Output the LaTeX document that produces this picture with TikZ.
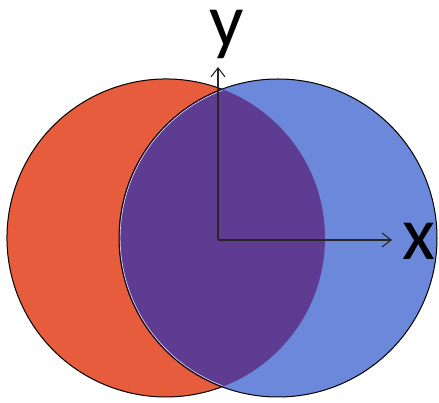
\documentclass[tikz,border=0pt]{standalone}
\usepackage{fontspec}
\setmainfont{Carlito}
\usetikzlibrary{arrows.meta}
\definecolor{redc}{HTML}{E65C3C}
\definecolor{bluec}{HTML}{6C88DA}
\definecolor{purplec}{HTML}{5E3C92}
\tikzset{
  axis/.style={draw=black!85, line width=1.2pt, -{Straight Barb[length=9pt,width=14pt,line width=1.1pt]}},
  outline/.style={draw=black, line width=1pt},
  lbl/.style={font=\fontsize{76}{76}\selectfont, inner sep=0pt, anchor=base}
}
\begin{document}
\begin{tikzpicture}[x=1pt,y=1pt]
\useasboundingbox (0,0) rectangle (439,403);
\coordinate (rc) at (166,165);
\coordinate (bc) at (278,165);
\fill[redc] (rc) circle (159);
\fill[bluec] (bc) circle (159);
\begin{scope}
  \clip (rc) circle (159);
  \fill[purplec] (bc) circle (159);
\end{scope}
\draw[outline] (bc) circle (159);
\draw[outline] (rc) ++(69.4:159) arc[start angle=69.4, end angle=290.6, radius=159];
\draw[white!80!purplec, line width=0.6pt] (bc) ++(110.6:157.8) arc[start angle=110.6, end angle=249.4, radius=157.8];
\coordinate (o) at (218,163);
\coordinate (ytip) at (218,336);
\coordinate (xtip) at (392,163);
\draw[axis] (o) -- (ytip);
\draw[axis] (o) -- (xtip);
\node[lbl] (ylab) at (227,356) {y};
\node[lbl] (xlab) at (418.5,143) {x};
\end{tikzpicture}
\end{document}
